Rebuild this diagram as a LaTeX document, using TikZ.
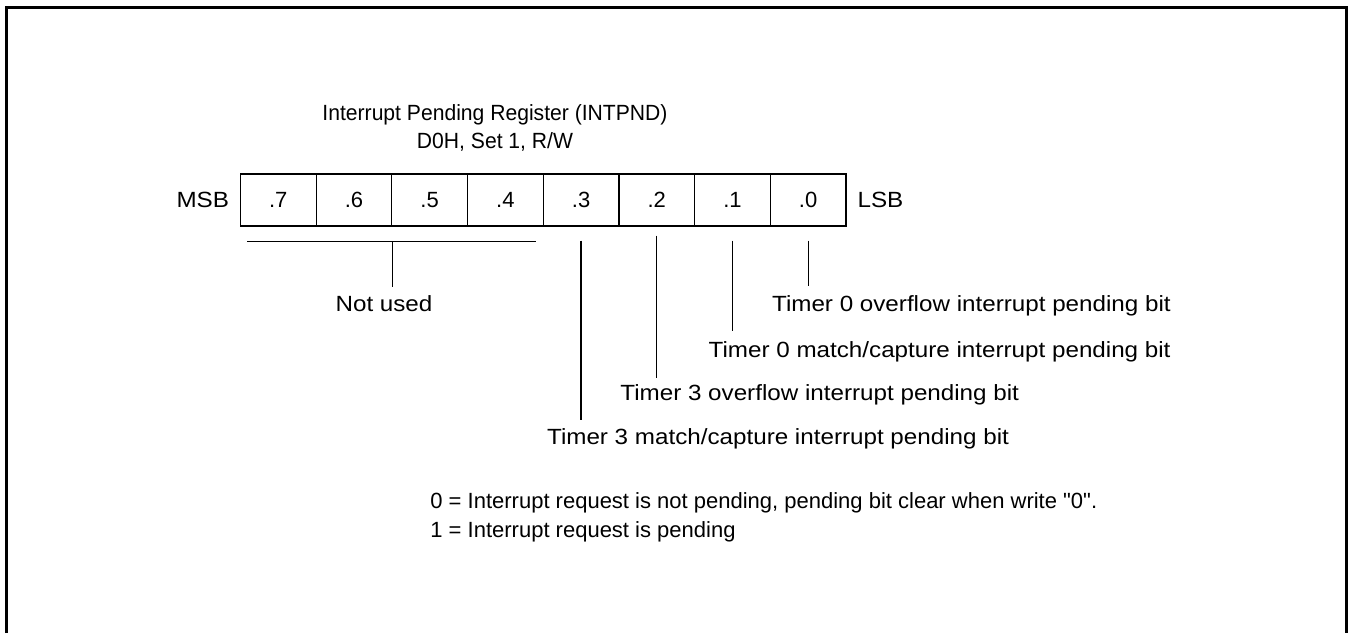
\documentclass[tikz,border=0pt]{standalone}
\usepackage{fontspec}
\setmainfont{Liberation Sans}
\newfontfamily\widefont[FakeStretch=1.1]{Liberation Sans}
\newfontfamily\narrowfont[FakeStretch=0.96]{Liberation Sans}
\newfontfamily\plainfont[Ligatures=TeXOff]{Liberation Sans}
\usetikzlibrary{positioning, calc}

\begin{document}
\begin{tikzpicture}[
    x=0.5pt, y=-0.5pt,
    every node/.style={font=\fontsize{11}{13.6}\selectfont, inner sep=0pt},
    bitbox/.style={rectangle, draw, line width=0.6pt, minimum width=37.85pt, minimum height=26pt},
    side/.style={font=\fontsize{11}{13.6}\widefont},
    lbl/.style={anchor=base west, font=\fontsize{11}{13.6}\widefont},
    lead/.style={line width=0.6pt},
    frame/.style={line width=1.5pt},
]
\useasboundingbox (0,0) rectangle (1353,633);
\draw[frame] (6,633) -- (6,7) -- (1346.5,7) -- (1346.5,633);

\node[align=center, anchor=north, font=\fontsize{11}{13.8}\narrowfont] (title) at (495,104.5)
    {Interrupt Pending Register (INTPND)\\D0H, Set 1, R/W};

% register bits
\foreach \i in {0,...,7}
    \node[bitbox] (b\i) at ({808.15-75.7*\i},200) {.\i};
\node[side, left=5.2pt of b7] (msb) {MSB};
\node[side, right=5.3pt of b0] (lsb) {LSB};

% bit descriptions
\node[lbl] (t0) at (771.7,311.7) {Timer 0 overflow interrupt pending bit};
\node[lbl] (t1) at (708.3,357.3) {Timer 0 match/capture interrupt pending bit};
\node[lbl] (t2) at (620,400.7) {Timer 3 overflow interrupt pending bit};
\node[lbl] (t3) at (546.7,444) {Timer 3 match/capture interrupt pending bit};
\node[side, anchor=base] (nu) at (384,311.7) {Not used};

\draw[lead] ([xshift=3.8pt,yshift=-7.5pt]b7.south west) -- ([xshift=-3.8pt,yshift=-7.5pt]b4.south east);
\draw[lead] ([yshift=-7.5pt]b6.south east) -- ($(b6.south east |- nu.north)+(0,4.3pt)$);

\foreach \i/\gap/\off in {0/7pt/4.5pt, 1/7pt/4.8pt, 2/4.5pt/3.2pt, 3/7pt/4pt}
    \draw[lead] ([yshift=-\gap]b\i.south) -- ($(b\i |- t\i.north)+(0,\off)$);

\node[align=left, anchor=north west, font=\fontsize{11}{13.6}\plainfont] (note) at (430,492.3)
    {0 = Interrupt request is not pending, pending bit clear when write \symbol{34}0\symbol{34}.\\[0.9pt]
     1 = Interrupt request is pending};

\end{tikzpicture}
\end{document}
